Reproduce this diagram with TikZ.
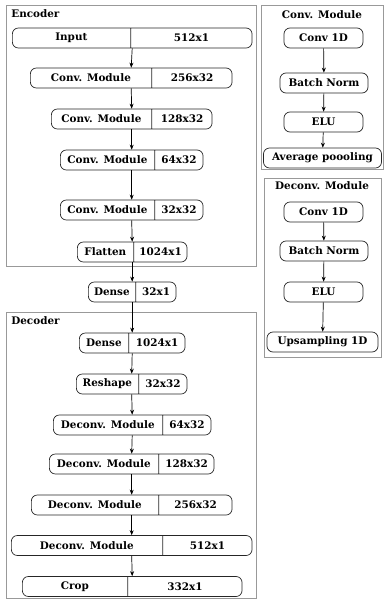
\documentclass[tikz,border=0pt]{standalone}
\usepackage{fontspec}
\setmainfont{DejaVu Serif}
\usetikzlibrary{shapes.multipart,arrows.meta}

% two-field record: left width, right width, left text, right text
\newcommand\rec[4]{\makebox[#1pt]{#3}\nodepart{two}\makebox[#2pt]{#4}}

\tikzset{
  layer/.style={rectangle split, rectangle split horizontal, rectangle split parts=2,
    draw=black!85, rounded corners=6pt, inner xsep=0pt, inner ysep=0pt,
    minimum height=20pt, anchor=west},
  opbox/.style={draw=black!85, rounded corners=6pt, inner sep=0pt, minimum height=20pt},
  cluster/.style={draw=black!40, line width=1pt},
  title/.style={inner sep=0pt}
}

\begin{document}
\begin{tikzpicture}[x=1pt, y=-1pt, >={Stealth[length=5pt,width=4pt]}, line width=0.7pt,
    font=\bfseries\fontsize{10.4}{12}\selectfont]
  \useasboundingbox (0,0) rectangle (384,600);

  % clusters
  \draw[cluster] (6,5) rectangle (256,266);
  \draw[cluster] (6,312) rectangle (256,598);
  \draw[cluster] (261,5) rectangle (383,169);
  \draw[cluster] (264,178) rectangle (381,357);
  \node[title, anchor=west] (enct) at (11,14) {Encoder};
  \node[title, anchor=west] (dect) at (11,321) {Decoder};
  \node[title] (convt) at (322,15) {Conv. Module};
  \node[title] (deconvt) at (322,186) {Deconv. Module};

  % encoder
  \node[layer] (input) at (12,38) {\rec{118}{121}{Input}{512x1}};
  \node[layer] (enc1) at (30,78) {\rec{121}{80}{Conv. Module}{256x32}};
  \node[layer] (enc2) at (51,119) {\rec{100}{60}{Conv. Module}{128x32}};
  \node[layer] (enc3) at (60,160) {\rec{94}{48}{Conv. Module}{64x32}};
  \node[layer] (enc4) at (60,210) {\rec{94}{48}{Conv. Module}{32x32}};
  \node[layer] (flat) at (77,252) {\rec{56}{53}{Flatten}{1024x1}};
  \node[layer] (dense) at (88,292) {\rec{47}{40}{Dense}{32x1}};

  % decoder
  \node[layer] (dec0) at (79,343) {\rec{49}{56}{Dense}{1024x1}};
  \node[layer] (reshape) at (76,384) {\rec{62}{48}{Reshape}{32x32}};
  \node[layer] (dec1) at (53,425) {\rec{109}{48}{Deconv. Module}{64x32}};
  \node[layer] (dec2) at (49,464) {\rec{109}{55}{Deconv. Module}{128x32}};
  \node[layer] (dec3) at (31,505) {\rec{127}{73}{Deconv. Module}{256x32}};
  \node[layer] (dec4) at (11,545.5) {\rec{151}{89}{Deconv. Module}{512x1}};
  \node[layer] (crop) at (22,586.5) {\rec{105}{114}{Crop}{332x1}};

  \foreach \a/\b in {input/enc1, enc1/enc2, enc2/enc3, enc3/enc4, enc4/flat, flat/dense,
      dense/dec0, dec0/reshape, reshape/dec1, dec1/dec2, dec2/dec3, dec3/dec4, dec4/crop}
    \draw[->] (\a.south) -- (\b.north);

  % module details
  \node[opbox, minimum width=79pt] (cconv) at (323.5,38) {Conv 1D};
  \node[opbox, minimum width=88pt] (cbn) at (324,83) {Batch Norm};
  \node[opbox, minimum width=79pt] (celu) at (323.5,122) {ELU};
  \node[opbox, minimum width=118pt] (cpool) at (322.5,158) {Average poooling};
  \node[opbox, minimum width=79pt] (dconv) at (323.5,212) {Conv 1D};
  \node[opbox, minimum width=88pt] (dbn) at (324,251) {Batch Norm};
  \node[opbox, minimum width=79pt] (delu) at (323.5,292) {ELU};
  \node[opbox, minimum width=111pt] (dup) at (322.5,342) {Upsampling 1D};

  \foreach \a/\b in {cconv/cbn, cbn/celu, celu/cpool, dconv/dbn, dbn/delu, delu/dup}
    \draw[->] (\a) -- (\b);
\end{tikzpicture}
\end{document}
